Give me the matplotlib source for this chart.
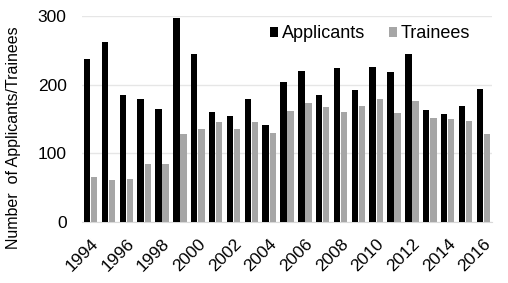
import matplotlib.pyplot as plt
import numpy as np

plt.rcParams['font.family'] = ['Liberation Sans', 'DejaVu Sans']

# values
years = list(range(1994, 2017))
applicants = [238, 263, 185, 179, 165, 297, 245, 160, 155, 179, 142, 204, 220, 185,
              225, 193, 226, 218, 245, 163, 158, 169, 194]
trainees = [66, 61, 63, 84, 84, 128, 135, 146, 136, 146, 130, 162, 174, 168,
            161, 169, 179, 159, 176, 152, 150, 147, 128]

fig = plt.figure(figsize=(5.08, 2.83), dpi=100)
ax = fig.add_axes([0.161, 0.2155, 0.808, 0.7275])

x = np.arange(len(years))
w = 0.36
ax.bar(x - 0.2, applicants, width=w, color='black', label='Applicants', zorder=3)
ax.bar(x + 0.2, trainees, width=w, color='#A6A6A6', label='Trainees', zorder=3)

ax.set_xlim(-0.5, len(years) - 0.5)
ax.set_ylim(0, 300)
ax.set_yticks([0, 100, 200, 300])
ax.grid(axis='y', color='#E6E6E6', linewidth=1, zorder=0)

ax.set_xticks(x[::2])
ax.set_xticklabels([str(y) for y in years[::2]], rotation=45, ha='right',
                   rotation_mode='anchor', fontsize=12.5)
ax.tick_params(axis='y', labelsize=12.5, length=0, pad=11)
ax.tick_params(axis='x', length=0, pad=10)

for s in ['top', 'right', 'left']:
    ax.spines[s].set_visible(False)
ax.spines['bottom'].set_color('#D9D9D9')

ax.set_ylabel('Number  of Applicants/Trainees', fontsize=11.5)
ax.yaxis.set_label_coords(-0.147, 0.41)

ax.legend(loc='upper right', bbox_to_anchor=(0.985, 1.035), frameon=False, ncol=2,
          fontsize=13, handlelength=0.45, handleheight=0.45, handletextpad=0.2,
          columnspacing=1.3)

plt.savefig('out.png', dpi=100)
